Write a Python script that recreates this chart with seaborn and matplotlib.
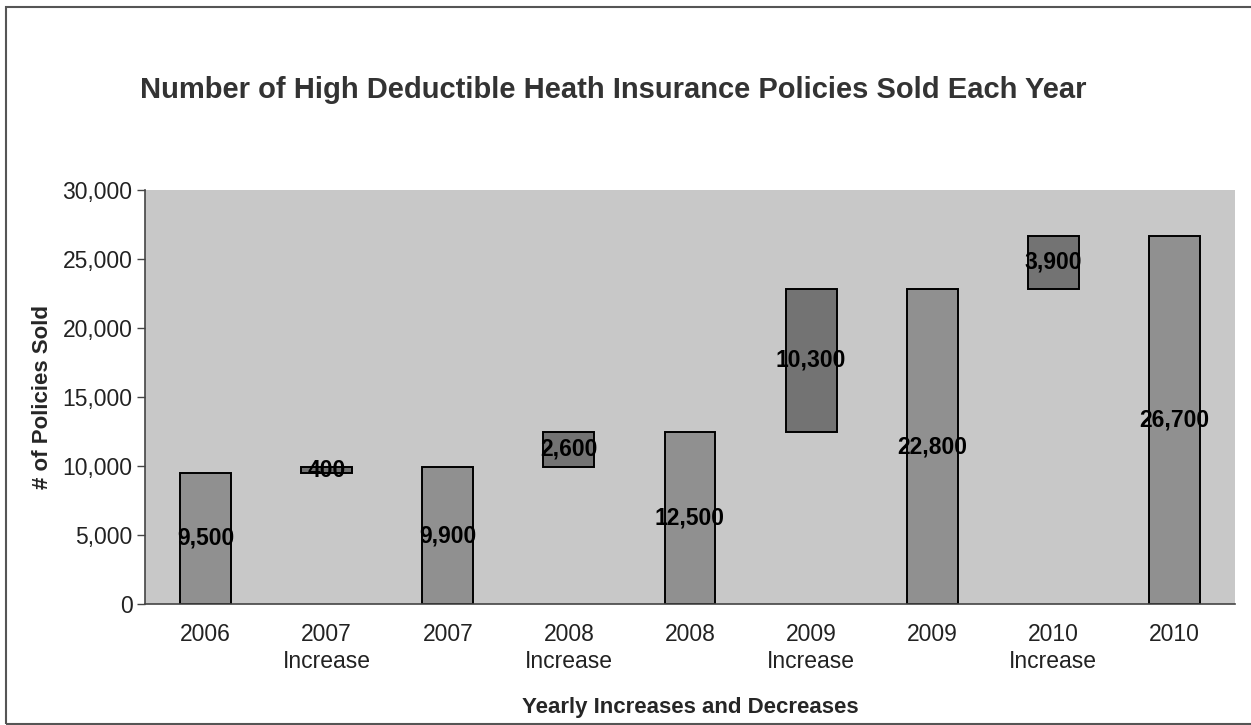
import numpy as np
import pandas as pd
import matplotlib
matplotlib.use("Agg")
import matplotlib.pyplot as plt
from matplotlib.patches import Rectangle
from matplotlib.ticker import FixedLocator
import seaborn as sns

# Waterfall data: yearly totals and the increases between them
categories = ["2006", "2007\nIncrease", "2007", "2008\nIncrease", "2008",
              "2009\nIncrease", "2009", "2010\nIncrease", "2010"]
total_labels = ["2006", "2007", "2008", "2009", "2010"]
total_values = [9500, 9900, 12500, 22800, 26700]
increase_labels = ["2007\nIncrease", "2008\nIncrease", "2009\nIncrease", "2010\nIncrease"]
increase_values = [400, 2600, 10300, 3900]
increase_bases = [9500, 9900, 12500, 22800]
y_ticks = [0, 5000, 10000, 15000, 20000, 25000, 30000]
y_tick_labels = ["0", "5,000", "10,000", "15,000", "20,000", "25,000", "30,000"]

sns.set_style("white")
plt.rcParams["font.family"] = ["Liberation Sans", "DejaVu Sans"]

fig = plt.figure(figsize=(12.51, 7.25), dpi=100)
ax = fig.add_axes([0.1159, 0.1669, 0.8713, 0.5710])
ax.set_facecolor("#c8c8c8")

totals = pd.DataFrame({"cat": total_labels, "val": total_values})
incs = pd.DataFrame({"cat": increase_labels, "val": increase_values, "base": increase_bases})

sns.barplot(data=totals, x="cat", y="val", order=categories, color="#909090",
            saturation=1, width=0.42, edgecolor="black", linewidth=1.4, ax=ax)
sns.barplot(data=incs, x="cat", y="val", order=categories, color="#737373",
            saturation=1, width=0.42, edgecolor="black", linewidth=1.4,
            bottom=incs["base"].to_numpy(), ax=ax)

# Value labels centred in each bar
pos = {c: i for i, c in enumerate(categories)}
for c, v in zip(total_labels, total_values):
    ax.text(pos[c], v / 2, f"{v:,}", ha="center", va="center",
            fontsize=16.5, fontweight="bold", color="black")
for c, v, b in zip(increase_labels, increase_values, increase_bases):
    ax.text(pos[c], b + v / 2, f"{v:,}", ha="center", va="center",
            fontsize=16.5, fontweight="bold", color="black")

ax.set_xlim(-0.5, len(categories) - 0.5)
ax.set_ylim(0, 30000)
ax.set_yticks(y_ticks)
ax.set_yticklabels(y_tick_labels, fontsize=16.5, color="#222222")
ax.set_xticks(range(len(categories)))
ax.set_xticklabels(categories, fontsize=16.5, color="#222222", linespacing=1.2)
ax.xaxis.set_minor_locator(FixedLocator(np.arange(-0.5, len(categories), 1.0)))
ax.tick_params(axis="x", which="major", length=0, pad=14)
ax.tick_params(axis="x", which="minor", length=6, width=1, color="#444444", direction="out")
ax.tick_params(axis="y", length=6, width=1, color="#444444", direction="out", pad=3, left=True)

for s in ["top", "right"]:
    ax.spines[s].set_visible(False)
for s in ["left", "bottom"]:
    ax.spines[s].set_color("#444444")
    ax.spines[s].set_linewidth(1.2)

ax.set_xlabel("Yearly Increases and Decreases", fontsize=16, fontweight="bold", labelpad=17)
ax.set_ylabel("# of Policies Sold", fontsize=16, fontweight="bold", labelpad=7)

fig.text(0.49, 0.876, "Number of High Deductible Heath Insurance Policies Sold Each Year",
         ha="center", va="center", fontsize=21, fontweight="bold", color="#333333")

# Outer chart frame
fig.patches.append(Rectangle((6 / 1251, 1 / 725), 1.2, 717 / 725, transform=fig.transFigure,
                             fill=False, edgecolor="#555555", linewidth=1.5))

fig.savefig("out.png", dpi=100, facecolor="white")
